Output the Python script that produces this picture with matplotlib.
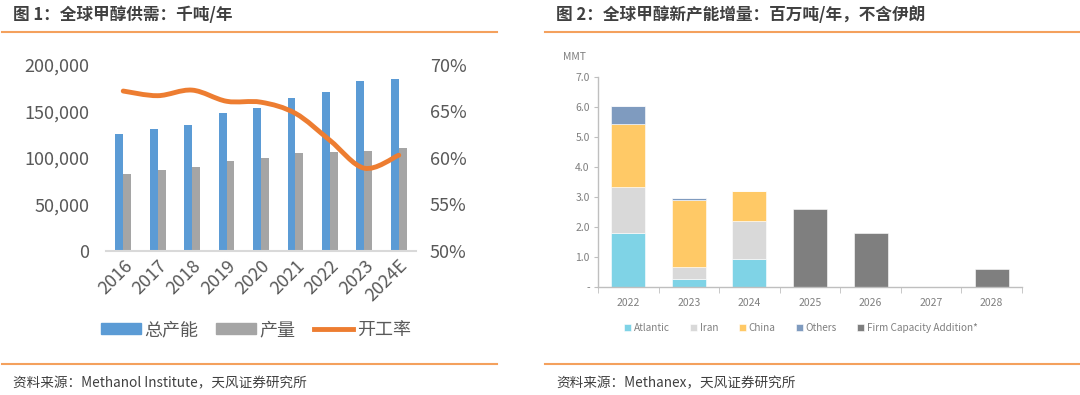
import numpy as np
import matplotlib
matplotlib.use("Agg")
import matplotlib.pyplot as plt
from matplotlib.path import Path
from matplotlib.patches import PathPatch, Patch
from matplotlib.lines import Line2D
from matplotlib.ticker import FuncFormatter, FixedLocator

plt.rcParams['font.family'] = ['Noto Sans CJK SC', 'DejaVu Sans']

# left chart data (kt/yr)
years_l = ["2016", "2017", "2018", "2019", "2020", "2021", "2022", "2023", "2024E"]
capacity = [126000, 131000, 135000, 148000, 154000, 164000, 171000, 183000, 185000]
production = [83000, 87000, 90000, 97000, 100500, 105500, 106000, 108000, 111000]
utilization = [0.672, 0.667, 0.673, 0.661, 0.660, 0.648, 0.619, 0.589, 0.603]

# right chart data (MMT)
years_r = ["2022", "2023", "2024", "2025", "2026", "2027", "2028"]
atlantic = [1.80, 0.25, 0.93, 0, 0, 0, 0]
iran = [1.52, 0.40, 1.26, 0, 0, 0, 0]
china = [2.12, 2.25, 1.01, 0, 0, 0, 0]
others = [0.61, 0.08, 0, 0, 0, 0, 0]
firm = [0, 0, 0, 2.60, 1.80, 0, 0.60]

W, H = 1080, 395
fig = plt.figure(figsize=(W / 100, H / 100), dpi=100)

ORANGE_RULE = "#f4a15d"
TXT = "#404040"


def fx(px):
    return px / W


def fy(py):
    return 1 - py / H


# headers, rules, footers
fig.text(fx(13), fy(15), "图 1：全球甲醇供需：千吨/年", fontsize=12, fontweight="bold",
         color=TXT, va="center", ha="left")
fig.text(fx(556), fy(15), "图 2：全球甲醇新产能增量：百万吨/年，不含伊朗", fontsize=12,
         fontweight="bold", color=TXT, va="center", ha="left")
for y in (32, 364):
    fig.add_artist(Line2D([fx(2), fx(497)], [fy(y), fy(y)], color=ORANGE_RULE, lw=1.5))
    fig.add_artist(Line2D([fx(545), fx(1080)], [fy(y), fy(y)], color=ORANGE_RULE, lw=1.5))
fig.text(fx(13), fy(383), "资料来源：Methanol Institute，天风证券研究所", fontsize=9.8,
         color=TXT, va="center", ha="left")
fig.text(fx(556), fy(383), "资料来源：Methanex，天风证券研究所", fontsize=9.8,
         color=TXT, va="center", ha="left")

# ---- left chart ----
ax = fig.add_axes([fx(106), fy(251), fx(416 - 106), (251 - 65) / H])
x = np.arange(len(years_l))
bw = 0.23
ax.bar(x - bw / 2, capacity, bw, color="#5b9bd5")
ax.bar(x + bw / 2, production, bw, color="#a5a5a5")
ax.set_xlim(-0.5, len(years_l) - 0.5)
ax.set_ylim(0, 200000)
ax.set_yticks(np.arange(0, 200001, 50000))
ax.yaxis.set_major_formatter(FuncFormatter(lambda v, p: f"{int(v):,}"))
ax.set_xticks(x)
ax.set_xticklabels(years_l, rotation=45, ha="right", rotation_mode="anchor")
for s in ("top", "right", "left"):
    ax.spines[s].set_visible(False)
ax.spines["bottom"].set_color("#d9d9d9")
ax.spines["bottom"].set_linewidth(1.5)
ax.tick_params(axis="both", length=0, labelsize=13, colors="#595959")
ax.tick_params(axis="y", pad=12)
ax.tick_params(axis="x", pad=4)

ax2 = ax.twinx()
ax2.set_ylim(0.5, 0.7)
ax2.set_yticks(np.arange(0.5, 0.701, 0.05))
ax2.yaxis.set_major_formatter(FuncFormatter(lambda v, p: f"{v * 100:.0f}%"))
for s in ax2.spines.values():
    s.set_visible(False)
ax2.tick_params(axis="y", length=0, labelsize=13, colors="#595959", pad=10)

# smooth line (Catmull-Rom -> Bezier)
pts = np.column_stack([x, utilization]).astype(float)
verts = [tuple(pts[0])]
codes = [Path.MOVETO]
n = len(pts)
for i in range(n - 1):
    p0 = pts[i - 1] if i > 0 else pts[i]
    p1 = pts[i]
    p2 = pts[i + 1]
    p3 = pts[i + 2] if i + 2 < n else pts[i + 1]
    c1 = p1 + (p2 - p0) / 6
    c2 = p2 - (p3 - p1) / 6
    verts += [tuple(c1), tuple(c2), tuple(p2)]
    codes += [Path.CURVE4] * 3
ax2.add_patch(PathPatch(Path(verts, codes), fill=False, edgecolor="#ed7d31", lw=3.5,
                        capstyle="round"))

handles = [Patch(color="#5b9bd5"), Patch(color="#a5a5a5"),
           Line2D([], [], color="#ed7d31", lw=3.5)]
fig.legend(handles, ["总产能", "产量", "开工率"], loc="center", ncol=3,
           bbox_to_anchor=(fx(256), fy(330)), frameon=False, fontsize=13,
           handlelength=2.2, handleheight=0.6, columnspacing=1.0, handletextpad=0.2,
           labelcolor="#595959")

# ---- right chart ----
bx = fig.add_axes([fx(598), fy(286.7), fx(1022 - 598), (286.7 - 77.3) / H])
xr = np.arange(len(years_r))
rw = 0.56
colors = {"Atlantic": "#7fd3e6", "Iran": "#d9d9d9", "China": "#ffc966",
          "Others": "#7f9bbf", "Firm Capacity Addition*": "#7f7f7f"}
bottom = np.zeros(len(years_r))
for name, vals in [("Atlantic", atlantic), ("Iran", iran), ("China", china),
                   ("Others", others), ("Firm Capacity Addition*", firm)]:
    bx.bar(xr, vals, rw, bottom=bottom, color=colors[name], label=name,
           edgecolor="white", linewidth=0.4)
    bottom += np.array(vals)
bx.set_xlim(-0.5, len(years_r) - 0.5)
bx.set_ylim(0, 7)
bx.set_yticks(np.arange(0, 7.01, 1))
bx.yaxis.set_major_formatter(FuncFormatter(lambda v, p: "-" if v == 0 else f"{v:.1f}"))
bx.set_xticks(xr)
bx.set_xticklabels(years_r)
bx.xaxis.set_minor_locator(FixedLocator(np.arange(-0.5, len(years_r), 1)))
for s in ("top", "right"):
    bx.spines[s].set_visible(False)
for s in ("left", "bottom"):
    bx.spines[s].set_color("#bfbfbf")
    bx.spines[s].set_linewidth(1)
bx.tick_params(axis="x", which="major", length=0, labelsize=7.5, colors="#7f7f7f", pad=8)
bx.tick_params(axis="x", which="minor", length=4, color="#bfbfbf")
bx.tick_params(axis="y", length=3, color="#bfbfbf", labelsize=7.5, colors="#7f7f7f", pad=3)
bx.tick_params(axis="y", colors="#bfbfbf", labelcolor="#7f7f7f")
fig.text(fx(575), fy(57), "MMT", fontsize=7.5, color="#7f7f7f", ha="center", va="center")

bx.legend(loc="center", bbox_to_anchor=(fx(801), fy(328)), bbox_transform=fig.transFigure,
          ncol=5, frameon=False, fontsize=7.2, handlelength=0.7, handleheight=0.7,
          columnspacing=2.0, handletextpad=0.3, labelcolor="#7f7f7f")

fig.savefig("out.png", dpi=100)
